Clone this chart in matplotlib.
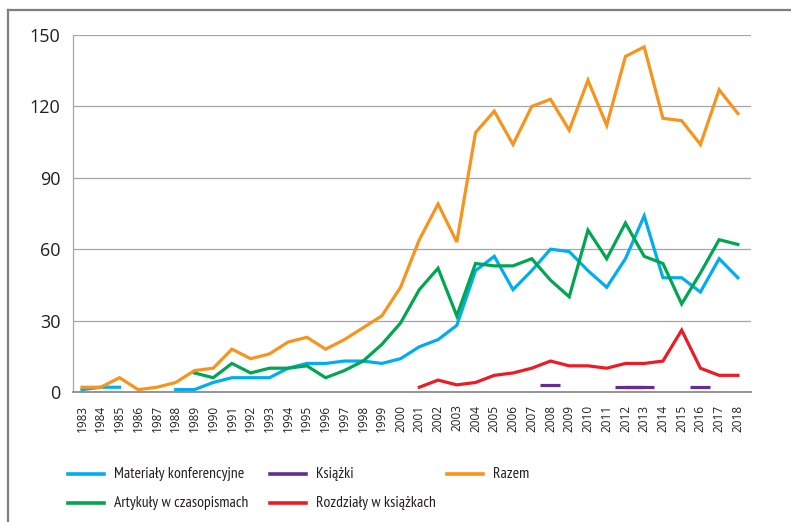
import numpy as np
import matplotlib
matplotlib.use('Agg')
import matplotlib.pyplot as plt
from matplotlib.lines import Line2D

# dane
lata = list(range(1983, 2019))

razem = [2, 2, 6, 1, 2, 4, 9, 10, 18, 14, 16, 21, 23, 18, 22, 27, 32, 44,
         64, 79, 63, 109, 118, 104, 120, 123, 110, 131, 112, 141, 145, 115,
         114, 104, 127, 117]

materialy = [1, 2, 2, None, None, 1, 1, 4, 6, 6, 6, 10, 12, 12, 13, 13, 12, 14,
             19, 22, 28, 51, 57, 43, 51, 60, 59, 51, 44, 56, 74, 48,
             48, 42, 56, 48]

artykuly = [None] * 6 + [8, 6, 12, 8, 10, 10, 11, 6, 9, 13, 20, 29,
                         43, 52, 32, 54, 53, 53, 56, 47, 40, 68, 56, 71, 57, 54,
                         37, 50, 64, 62]

rozdzialy = [None] * 18 + [2, 5, 3, 4, 7, 8, 10, 13, 11, 11, 10, 12, 12, 13,
                           26, 10, 7, 7]

ksiazki = [None] * 25 + [3, None, None, None, 2, 2, None, None, 2, None, None]

series = [
    ("Materiały konferencyjne", materialy, "#00aeef"),
    ("Artykuły w czasopismach", artykuly, "#00a650"),
    ("Książki", ksiazki, "#662d91"),
    ("Rozdziały w książkach", rozdzialy, "#ed1c24"),
    ("Razem", razem, "#f7941d"),
]

narrow = ["PT Sans Narrow", "DejaVu Sans"]
plt.rcParams['font.family'] = ['Open Sans', 'DejaVu Sans']
text_col = "#231f20"
W, H = 791, 522

fig = plt.figure(figsize=(W / 100, H / 100), dpi=100)
ax = fig.add_axes([73 / W, 130 / H, 678 / W, 357 / H])

def to_arr(vals):
    return np.array([np.nan if v is None else v for v in vals], dtype=float)

for name, vals, col in series:
    y = to_arr(vals)
    if name == "Książki":
        ax.plot(lata, y, color=col, lw=2.3, marker='_', ms=14,
                mew=2.3, solid_capstyle='butt', zorder=3)
    else:
        ax.plot(lata, y, color=col, lw=2.3, zorder=3, solid_joinstyle='miter')

ax.set_xlim(1982.52, 2018.7)
ax.set_ylim(0, 150)
ax.set_yticks(range(0, 151, 30))
ax.set_xticks(lata)
ax.set_xticklabels([str(r) for r in lata], rotation=90, fontsize=8.5,
                   color=text_col)
ax.tick_params(axis='y', length=0, pad=9, labelsize=13, labelcolor=text_col)
ax.tick_params(axis='x', length=0, pad=9)

ax.yaxis.grid(True, color="#a6a6a6", lw=0.9)
ax.set_axisbelow(True)
for s in ['top', 'right']:
    ax.spines[s].set_visible(False)
ax.spines['left'].set_color("#a6a6a6")
ax.spines['left'].set_linewidth(0.9)
ax.spines['bottom'].set_color("#8c8c8c")
ax.spines['bottom'].set_linewidth(1.3)

# legenda ustawiona ręcznie: 3 kolumny, 2 wiersze
col_x = [68, 270, 447]
row_y = [474, 503]
slots = [(0, 0), (0, 1), (1, 0), (1, 1), (2, 0)]
renderer = fig.canvas.get_renderer()
leg_texts = []
for (name, _, col), (c, r) in zip(series, slots):
    x0, y0 = col_x[c], row_y[r]
    fig.add_artist(Line2D([x0 / W, (x0 + 36) / W], [1 - y0 / H, 1 - y0 / H],
                          color=col, lw=2.6, transform=fig.transFigure))
    t = fig.text((x0 + 46) / W, 1 - y0 / H, name, fontsize=11, color=text_col,
                 va='center', ha='left', family=narrow)
    leg_texts.append(t)

# dopasowanie rozmiaru: trochę szerzej niż w oryginale, żeby litery były wyższe
w = leg_texts[0].get_window_extent(renderer).width
size = min(12.5, 11 * 130 / w)
for t in leg_texts:
    t.set_fontsize(size)

# ramka wokół rysunku (góra i lewa strona)
fig.add_artist(Line2D([7.5 / W, 7.5 / W], [0, 1 - 9.5 / H],
                      color="#7f7f7f", lw=1.6, transform=fig.transFigure))
fig.add_artist(Line2D([7.5 / W, 1], [1 - 9.5 / H, 1 - 9.5 / H],
                      color="#7f7f7f", lw=1.6, transform=fig.transFigure))

fig.savefig("out.png", dpi=100)
plt.close(fig)
